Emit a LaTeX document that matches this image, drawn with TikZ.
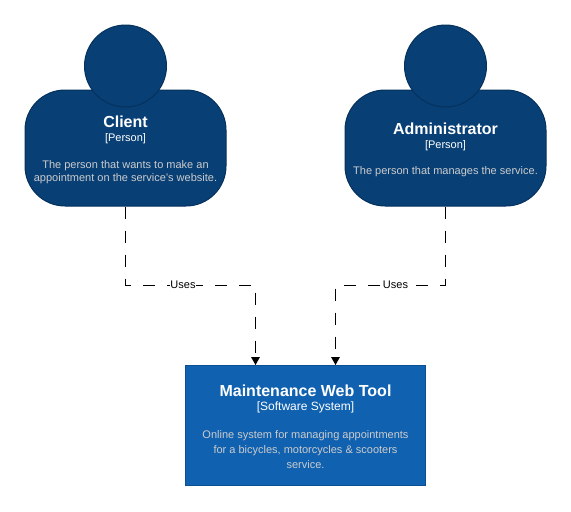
\documentclass[tikz,border=0pt]{standalone}
\usepackage{fontspec}
\setmainfont{Liberation Sans}
\usepackage{xcolor}
\usetikzlibrary{arrows.meta,positioning}
\definecolor{persondark}{HTML}{083F75}
\definecolor{personline}{HTML}{06315C}
\definecolor{systemblue}{HTML}{1061B0}
\definecolor{systemline}{HTML}{0D5091}
\definecolor{descgray}{HTML}{CCCCCC}
\newcommand{\cardtitle}[1]{{\fontsize{12}{14}\selectfont\bfseries #1}}
\newcommand{\carddesc}[1]{{\color{descgray}#1}}
\tikzset{
  bodycard/.style={
    draw=personline, fill=persondark, line width=0.75pt, rounded corners=30pt,
    minimum width=150.75pt, minimum height=87pt, inner sep=0pt
  },
  headdisc/.style={
    draw=personline, fill=persondark, line width=0.75pt, circle,
    inner sep=0pt, minimum size=61.5pt
  },
  syscard/.style={
    draw=systemline, fill=systemblue, line width=0.75pt,
    minimum width=180pt, minimum height=90pt, inner sep=0pt
  },
  persontext/.style={
    align=center, text=white, inner sep=0pt, font=\fontsize{8.25}{9.75}\selectfont
  },
  systext/.style={
    align=center, text=white, inner sep=0pt, font=\fontsize{8.25}{11}\selectfont
  },
  usesarr/.style={
    -{Triangle[length=6pt,width=6.5pt]}, line width=0.75pt, color=black,
    dash pattern=on 9pt off 9pt
  },
  useslabel/.style={fill=white, inner sep=0pt, font=\fontsize{8.25}{10}\selectfont}
}
\begin{document}
\begin{tikzpicture}[x=0.75pt,y=-0.75pt]
  \useasboundingbox (0,0) rectangle (571,511);

  \node[bodycard] (clientbody) at (125.5,148) {};
  \node[headdisc] (clienthead) at (125.5,66) {};
  \node[persontext] (clienttext) at (125.5,150)
    {\cardtitle{Client}\\[0.75pt]\relax [Person]\\[10pt]
     \carddesc{The person that wants to make an}\\
     \carddesc{appointment on the service's website.}};

  \node[bodycard] (adminbody) at (445.5,148) {};
  \node[headdisc] (adminhead) at (445.5,66) {};
  \node[persontext] (admintext) at (445.5,150)
    {\cardtitle{Administrator}\\[0.75pt]\relax [Person]\\[10pt]
     \carddesc{The person that manages the service.}};

  \node[syscard] (system) at (305.5,425.5) {};
  \node[systext] (systemtext) at (305.5,426.5)
    {\cardtitle{Maintenance Web Tool}\\[-0.75pt]
     {\fontsize{9}{11}\selectfont [Software System]}\\[10.5pt]
     \carddesc{Online system for managing appointments}\\
     \carddesc{for a bicycles, motorcycles \& scooters}\\
     \carddesc{service.}};

  \coordinate (clientbend) at (125.5,285);
  \coordinate (clientin) at (255.5,365);
  \coordinate (adminbend) at (445.5,285);
  \coordinate (adminin) at (335.5,365);

  \draw[usesarr] (clientbody.south) -- (clientbend) -| (clientin);
  \draw[usesarr] (adminbody.south) -- (adminbend) -| (adminin);

  \node[useslabel] (clientuses) at (183,285) {Uses};
  \node[useslabel] (adminuses) at (395.5,285) {Uses};
\end{tikzpicture}
\end{document}
